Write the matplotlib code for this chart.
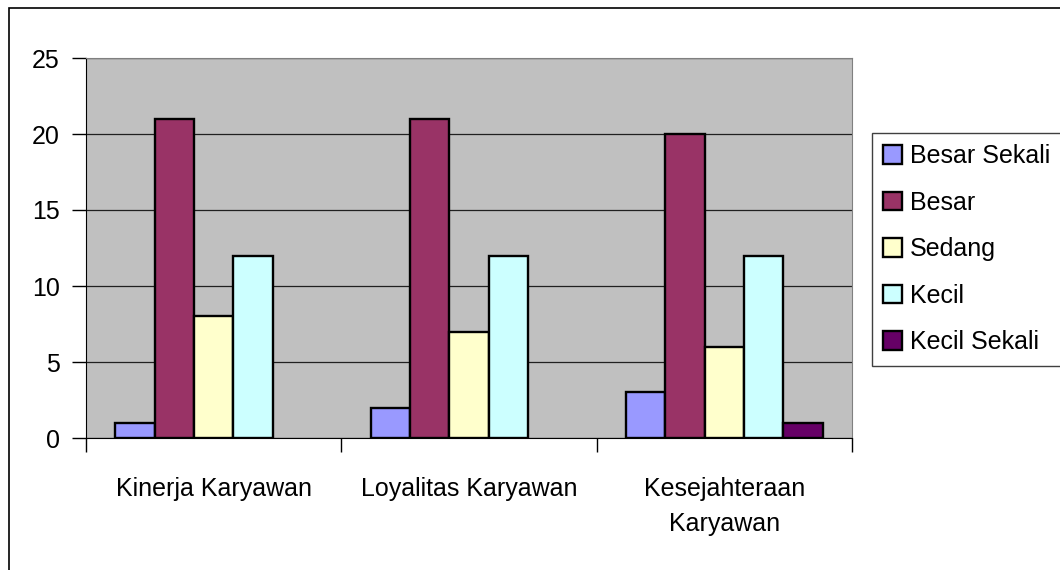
import numpy as np
import matplotlib
matplotlib.use('Agg')
from matplotlib import pyplot as plt
import matplotlib.patches as mpatches

# data
categories = ['Kinerja Karyawan', 'Loyalitas Karyawan', 'Kesejahteraan\nKaryawan']
series = ['Besar Sekali', 'Besar', 'Sedang', 'Kecil', 'Kecil Sekali']
besar_sekali = [1, 2, 3]
besar = [21, 21, 20]
sedang = [8, 7, 6]
kecil = [12, 12, 12]
kecil_sekali = [0, 0, 1]
values = [besar_sekali, besar, sedang, kecil, kecil_sekali]
cols = ['#9999FF', '#993366', '#FFFFCC', '#CCFFFF', '#660066']

plt.rcParams['font.family'] = ['Liberation Sans', 'DejaVu Sans']

fig = plt.figure(figsize=(10.6, 5.7), dpi=100)
ax = fig.add_axes([86/1060, 1-438/570, (852-86)/1060, (438-58)/570])
ax.set_facecolor('#C0C0C0')

w = 1/6.5
x = np.arange(len(categories))
for i, (s, v) in enumerate(zip(series, values)):
    # zero-height bars are not drawn in the original
    edges = ['black' if h > 0 else 'none' for h in v]
    ax.bar(x + (i - 2) * w, v, width=w, color=cols[i], edgecolor=edges,
           linewidth=1.7, label=s, zorder=3)

ax.set_xlim(-0.5, 2.5)
ax.set_ylim(0, 25)
ax.set_yticks(range(0, 26, 5))
ax.yaxis.grid(True, color='#202020', linewidth=0.9, zorder=0)
ax.set_axisbelow(True)
ax.tick_params(axis='y', labelsize=18, length=10, width=1, pad=9)

ax.set_xticks([-0.5, 0.5, 1.5, 2.5])
ax.set_xticks(x, minor=True)
ax.set_xticklabels([])
ax.set_xticklabels(categories, minor=True, fontsize=18, linespacing=1.6)
ax.tick_params(axis='x', which='major', length=10, width=1)
ax.tick_params(axis='x', which='minor', length=0, pad=28)

for sp in ['top', 'right']:
    ax.spines[sp].set_color('#808080')
for sp in ['left', 'bottom']:
    ax.spines[sp].set_color('black')

handles = [mpatches.Patch(facecolor=cols[i], edgecolor='black', linewidth=1.7, label=s)
           for i, s in enumerate(series)]
leg = fig.legend(handles=handles, loc='upper left',
                 bbox_to_anchor=(872/1060, 1-133/570), fontsize=18,
                 frameon=True, fancybox=False, framealpha=1, edgecolor='#404040',
                 handlelength=0.75, handleheight=0.75, handletextpad=0.3,
                 labelspacing=0.9, borderpad=0.45, borderaxespad=0)
leg.get_frame().set_linewidth(1)

# outer chart border
fig.patches.append(mpatches.Rectangle((9/1060, -0.1), 1.2, 1 - 8/570 + 0.1,
                                      transform=fig.transFigure, fill=False,
                                      edgecolor='black', linewidth=1.2))

fig.savefig('out.png', dpi=100)
